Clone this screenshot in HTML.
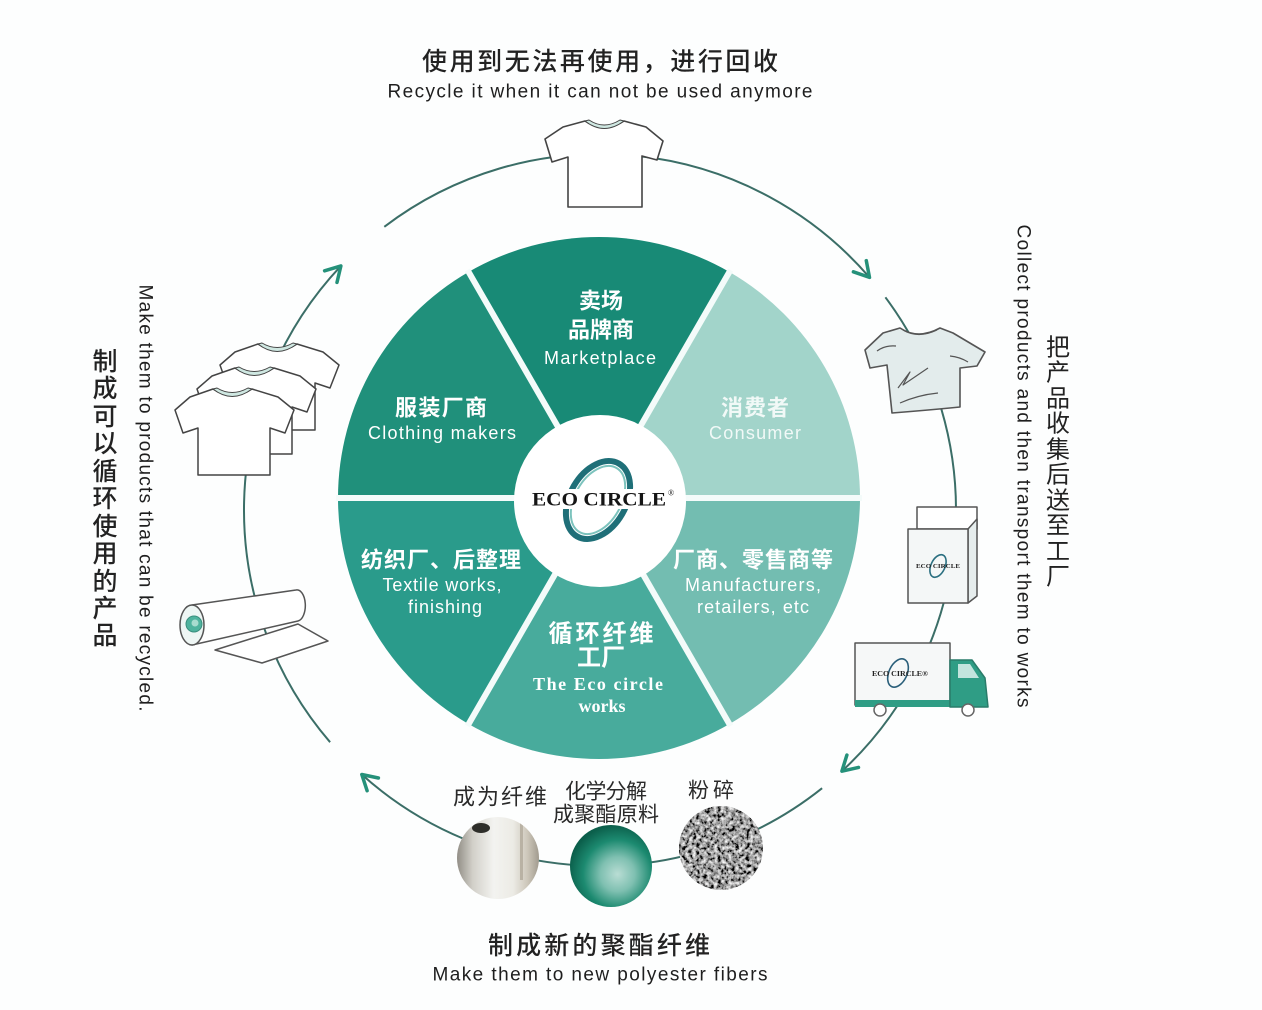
<!DOCTYPE html>
<html>
<head>
<meta charset="utf-8">
<style>
html,body{margin:0;padding:0;background:#fdfefe;}
svg{display:block;}
.cn{font-family:"Liberation Sans","Noto Sans CJK SC",sans-serif;}
.en{font-family:"Liberation Sans",sans-serif;}
.se{font-family:"Liberation Serif",serif;}
</style>
</head>
<body>
<svg width="1262" height="1010" viewBox="0 0 1262 1010" xmlns="http://www.w3.org/2000/svg">
<defs>
  <radialGradient id="gMid" cx="0.58" cy="0.6" r="0.6">
    <stop offset="0" stop-color="#b9ddd4"/>
    <stop offset="0.35" stop-color="#7fc0b1"/>
    <stop offset="0.7" stop-color="#1c8a70"/>
    <stop offset="1" stop-color="#0b5f4b"/>
  </radialGradient>
  <linearGradient id="gYarn" x1="0" y1="0" x2="1" y2="0">
    <stop offset="0" stop-color="#8e8a82"/>
    <stop offset="0.2" stop-color="#d2d0c9"/>
    <stop offset="0.45" stop-color="#f3f3f0"/>
    <stop offset="0.68" stop-color="#ecebe5"/>
    <stop offset="0.85" stop-color="#cdc7ba"/>
    <stop offset="1" stop-color="#9d978b"/>
  </linearGradient>
  <clipPath id="cRight"><circle cx="721" cy="848" r="42"/></clipPath>
  <clipPath id="cLeft"><circle cx="498" cy="858" r="41"/></clipPath>
  <filter id="noise" x="0" y="0" width="1" height="1">
    <feTurbulence type="fractalNoise" baseFrequency="0.28" numOctaves="3" seed="7"/>
    <feColorMatrix type="saturate" values="0"/>
    <feComponentTransfer>
      <feFuncR type="linear" slope="2.6" intercept="-0.95"/>
      <feFuncG type="linear" slope="2.6" intercept="-0.95"/>
      <feFuncB type="linear" slope="2.6" intercept="-0.95"/>
      <feFuncA type="table" tableValues="1 1"/>
    </feComponentTransfer>
  </filter>
</defs>

<rect width="1262" height="1010" fill="#fdfefe"/>

<!-- Titles -->
<text x="600" y="62" class="cn" font-size="25" font-weight="500" fill="#222" text-anchor="middle" dominant-baseline="central" textLength="356" lengthAdjust="spacing">使用到无法再使用，进行回收</text>
<text x="600" y="92" class="en" font-size="19" fill="#1e1e1e" text-anchor="middle" dominant-baseline="central" textLength="425" lengthAdjust="spacing">Recycle it when it can not be used anymore</text>

<text x="599" y="946" class="cn" font-size="25" font-weight="500" fill="#222" text-anchor="middle" dominant-baseline="central" textLength="222" lengthAdjust="spacing">制成新的聚酯纤维</text>
<text x="600" y="975" class="en" font-size="19" fill="#1e1e1e" text-anchor="middle" dominant-baseline="central" textLength="335" lengthAdjust="spacing">Make them to new polyester fibers</text>

<!-- Left vertical texts -->
<text transform="translate(145,498) rotate(90)" class="en" font-size="19" fill="#1e1e1e" text-anchor="middle" dominant-baseline="central" textLength="427" lengthAdjust="spacing">Make them to products that can be recycled.</text>
<g class="cn" font-size="25" font-weight="500" fill="#222" text-anchor="middle" dominant-baseline="central">
  <text x="105" y="362">制</text>
  <text x="105" y="389">成</text>
  <text x="105" y="417">可</text>
  <text x="105" y="444">以</text>
  <text x="105" y="472">循</text>
  <text x="105" y="499">环</text>
  <text x="105" y="527">使</text>
  <text x="105" y="554">用</text>
  <text x="105" y="582">的</text>
  <text x="105" y="609">产</text>
  <text x="105" y="636">品</text>
</g>

<!-- Right vertical texts -->
<text transform="translate(1023,466) rotate(90)" class="en" font-size="19" fill="#1e1e1e" text-anchor="middle" dominant-baseline="central" textLength="483" lengthAdjust="spacing">Collect products and then transport them to works</text>
<g class="cn" font-size="24" fill="#222" text-anchor="middle" dominant-baseline="central">
  <text x="1058" y="348">把</text>
  <text x="1058" y="373">产</text>
  <text x="1058" y="399">品</text>
  <text x="1058" y="424">收</text>
  <text x="1058" y="450">集</text>
  <text x="1058" y="475">后</text>
  <text x="1058" y="501">送</text>
  <text x="1058" y="526">至</text>
  <text x="1058" y="552">工</text>
  <text x="1058" y="577">厂</text>
</g>

<!-- Outer ring segments -->
<g fill="none" stroke="#3b6e67" stroke-width="2">
  <path d="M384.3,226.8 A356,356 0 0 1 869.5,277.4"/>
  <path d="M885.4,297.3 A356,356 0 0 1 841.9,771.2"/>
  <path d="M822.1,788.2 A356,356 0 0 1 361.8,774.5"/>
  <path d="M330.1,742.2 A356,356 0 0 1 340.9,265.9"/>
</g>
<!-- Arrowheads -->
<g fill="none" stroke="#25917a" stroke-width="3.5" stroke-linecap="round" stroke-linejoin="round">
  <path d="M866.3,260.7 L869.5,277.4 L853.4,271.8"/>
  <path d="M858.5,767.4 L841.9,771.2 L846.9,755.0"/>
  <path d="M367.1,790.7 L361.8,774.5 L378.4,778.0"/>
  <path d="M324.6,270.8 L340.9,265.9 L337.0,282.4"/>
</g>

<!-- Pie -->
<g>
  <path d="M599,498 L468.5,272 A261,261 0 0 1 729.5,272 Z" fill="#188a76"/>
  <path d="M599,498 L729.5,272 A261,261 0 0 1 860,498 Z" fill="#a2d4ca"/>
  <path d="M599,498 L860,498 A261,261 0 0 1 729.5,724 Z" fill="#73bdb1"/>
  <path d="M599,498 L729.5,724 A261,261 0 0 1 468.5,724 Z" fill="#48ab9c"/>
  <path d="M599,498 L468.5,724 A261,261 0 0 1 338,498 Z" fill="#2a9b8b"/>
  <path d="M599,498 L338,498 A261,261 0 0 1 468.5,272 Z" fill="#20907b"/>
  <g stroke="#f4fbfa" stroke-width="6">
    <line x1="599" y1="498" x2="862" y2="498"/>
    <line x1="599" y1="498" x2="336" y2="498"/>
    <line x1="599" y1="498" x2="467.5" y2="270"/>
    <line x1="599" y1="498" x2="730.5" y2="270"/>
    <line x1="599" y1="498" x2="467.5" y2="726"/>
    <line x1="599" y1="498" x2="730.5" y2="726"/>
  </g>
  <circle cx="600" cy="501" r="86" fill="#ffffff"/>
</g>

<!-- ECO CIRCLE logo -->
<g transform="translate(598,500) rotate(30)">
  <ellipse cx="0" cy="0" rx="28" ry="42" fill="none" stroke="#1f6f78" stroke-width="6"/>
  <ellipse cx="0" cy="0" rx="23" ry="37" fill="none" stroke="#7cc3bd" stroke-width="2"/>
</g>
<rect x="528" y="489" width="145" height="20" fill="#ffffff"/>
<text x="599" y="500" class="se" font-size="19" font-weight="bold" fill="#151515" text-anchor="middle" dominant-baseline="central" textLength="134" lengthAdjust="spacingAndGlyphs">ECO CIRCLE</text>
<text x="671" y="493" class="se" font-size="8" fill="#151515" text-anchor="middle" dominant-baseline="central">®</text>

<!-- Pie texts -->
<g class="cn" fill="#ffffff" text-anchor="middle" dominant-baseline="central">
  <text x="601" y="301" font-size="22" font-weight="bold">卖场</text>
  <text x="601" y="330" font-size="22" font-weight="bold" textLength="66" lengthAdjust="spacing">品牌商</text>
  <text x="600" y="358" class="en" font-size="18" textLength="112" lengthAdjust="spacing">Marketplace</text>

  <text x="441" y="408" font-size="22" font-weight="bold" textLength="92" lengthAdjust="spacing">服装厂商</text>
  <text x="442" y="433" class="en" font-size="18" textLength="148" lengthAdjust="spacing">Clothing makers</text>

  <text x="755" y="408" font-size="22" font-weight="bold" fill-opacity="0.85" textLength="68" lengthAdjust="spacing">消费者</text>
  <text x="755" y="433" class="en" font-size="18" fill-opacity="0.85" textLength="92" lengthAdjust="spacing">Consumer</text>

  <text x="441" y="560" font-size="22" font-weight="bold" textLength="160" lengthAdjust="spacing">纺织厂、后整理</text>
  <text x="442" y="585" class="en" font-size="18" textLength="119" lengthAdjust="spacing">Textile works,</text>
  <text x="445" y="607" class="en" font-size="18" textLength="74" lengthAdjust="spacing">finishing</text>

  <text x="753" y="560" font-size="22" font-weight="bold" textLength="160" lengthAdjust="spacing">厂商、零售商等</text>
  <text x="753" y="585" class="en" font-size="18" textLength="136" lengthAdjust="spacing">Manufacturers,</text>
  <text x="753" y="607" class="en" font-size="18" textLength="112" lengthAdjust="spacing">retailers, etc</text>

  <text x="601" y="634" font-size="24" font-weight="bold" textLength="105" lengthAdjust="spacing">循环纤维</text>
  <text x="601" y="658" font-size="24" font-weight="bold">工厂</text>
  <text x="598" y="684" class="se" font-size="18" font-weight="bold" textLength="130" lengthAdjust="spacing">The Eco circle</text>
  <text x="602" y="706" class="se" font-size="18" font-weight="bold">works</text>
</g>

<!-- Top shirt -->
<g stroke="#444" stroke-width="1.6" stroke-linejoin="round">
  <path d="M585,121 Q604,134 624,121 L646,127 L663,141 L657,160 L642,156 L642,207 L568,207 L568,157 L552,162 L545,139 L563,127 Z" fill="#ffffff"/>
  <path d="M585,121 Q604,136 624,121 L620,120 Q604,130 589,120 Z" fill="#cfe8e2" stroke-width="1"/>
</g>

<!-- Left stacked shirts -->
<g stroke="#444" stroke-width="1.5" stroke-linejoin="round">
  <g transform="translate(45,-45)">
    <path d="M213,389 Q232,402 252,389 L278,397 L294,410 L285,433 L270,428 L270,475 L198,475 L198,428 L183,433 L175,410 L190,397 Z" fill="#ffffff"/>
    <path d="M213,389 Q232,404 252,389 L248,388 Q232,397 217,388 Z" fill="#cfe8e2" stroke-width="1"/>
  </g>
  <g transform="translate(22,-21)">
    <path d="M213,389 Q232,402 252,389 L278,397 L294,410 L285,433 L270,428 L270,475 L198,475 L198,428 L183,433 L175,410 L190,397 Z" fill="#ffffff"/>
    <path d="M213,389 Q232,404 252,389 L248,388 Q232,397 217,388 Z" fill="#cfe8e2" stroke-width="1"/>
  </g>
  <path d="M213,389 Q232,402 252,389 L278,397 L294,410 L285,433 L270,428 L270,475 L198,475 L198,428 L183,433 L175,410 L190,397 Z" fill="#ffffff"/>
  <path d="M213,389 Q232,404 252,389 L248,388 Q232,397 217,388 Z" fill="#cfe8e2" stroke-width="1"/>
</g>

<!-- Roll -->
<g stroke="#555" stroke-width="1.5" stroke-linejoin="round">
  <path d="M215,650 L298,624 L328,641 L262,663 Z" fill="#ffffff"/>
  <path d="M192,605 L296,590 A8,15 0 0 1 298,621 L192,645 Z" fill="#ffffff"/>
  <ellipse cx="192" cy="625" rx="12" ry="20" fill="#eef6f4"/>
  <circle cx="194" cy="624" r="8" fill="#4fb39e" stroke="#3a8f7e" stroke-width="1"/>
  <circle cx="195" cy="623" r="3.5" fill="#a8dccf" stroke="none"/>
</g>

<!-- Crumpled shirt (right) -->
<g stroke="#555" stroke-width="1.6" stroke-linejoin="round" fill="none">
  <path d="M900,328 Q918,340 940,328 L953,333 L985,352 L977,366 L960,368 L960,407 Q930,410 892,413 L887,365 L870,368 L865,350 L883,333 Z" fill="#e3ecec"/>
  <path d="M903,330 Q918,339 937,330" stroke-width="1.2"/>
  <path d="M877,351 Q885,345 896,346" stroke-width="1.2"/>
  <path d="M898,388 L910,372 L903,385 L928,368" stroke-width="1.2"/>
  <path d="M900,403 Q918,395 938,393" stroke-width="1.2"/>
  <path d="M950,356 Q960,357 968,362" stroke-width="1.2"/>
</g>

<!-- Box -->
<g stroke="#555" stroke-width="1.5" stroke-linejoin="round">
  <rect x="917" y="507" width="60" height="22" fill="#ffffff"/>
  <polygon points="968,529 977,519 977,596 968,603" fill="#e6eded"/>
  <rect x="908" y="529" width="60" height="74" fill="#f4f7f7"/>
</g>
<g transform="translate(938,566) rotate(25)">
  <ellipse cx="0" cy="0" rx="7" ry="12" fill="none" stroke="#2a6f80" stroke-width="1.6"/>
</g>
<text x="938" y="567" class="se" font-size="6" font-weight="bold" fill="#222" text-anchor="middle" dominant-baseline="central" textLength="44" lengthAdjust="spacingAndGlyphs">ECO CIRCLE</text>

<!-- Truck -->
<g stroke="#555" stroke-width="1.5" stroke-linejoin="round">
  <rect x="855" y="643" width="95" height="62" fill="#f6f8f8"/>
  <rect x="855" y="700" width="95" height="7" fill="#2f9d85" stroke="none"/>
  <polygon points="950,660 972,660 985,678 988,707 950,707" fill="#2f9d85" stroke="#2a7c6a"/>
  <polygon points="958,664 970,664 979,678 958,678" fill="#c2e4dd" stroke="none"/>
  <circle cx="880" cy="710" r="6" fill="#ffffff" stroke="#666"/>
  <circle cx="968" cy="710" r="6" fill="#ffffff" stroke="#666"/>
</g>
<g transform="translate(898,673) rotate(25)">
  <ellipse cx="0" cy="0" rx="9" ry="15" fill="none" stroke="#2a5f7a" stroke-width="1.6"/>
</g>
<text x="900" y="674" class="se" font-size="7" font-weight="bold" fill="#222" text-anchor="middle" dominant-baseline="central" textLength="56" lengthAdjust="spacingAndGlyphs">ECO CIRCLE®</text>

<!-- Bottom circles -->
<g clip-path="url(#cLeft)">
  <rect x="456" y="816" width="84" height="84" fill="url(#gYarn)"/>
  <ellipse cx="481" cy="828" rx="9" ry="5" fill="#2e2e2a"/>
  <rect x="520" y="820" width="3" height="60" fill="#b9b2a4"/>
</g>
<circle cx="611" cy="866" r="41" fill="url(#gMid)"/>
<g clip-path="url(#cRight)">
  <rect x="678" y="805" width="86" height="86" fill="#777" filter="url(#noise)"/>
</g>

<!-- Bottom small labels -->
<g class="cn" fill="#2a2a2a" text-anchor="middle" dominant-baseline="central">
  <text x="500" y="797" font-size="22" textLength="94" lengthAdjust="spacing">成为纤维</text>
  <text x="606" y="792" font-size="21" textLength="82" lengthAdjust="spacing">化学分解</text>
  <text x="606" y="815" font-size="21" textLength="106" lengthAdjust="spacing">成聚酯原料</text>
  <text x="711" y="791" font-size="21" textLength="46" lengthAdjust="spacing">粉碎</text>
</g>
</svg>
</body>
</html>
